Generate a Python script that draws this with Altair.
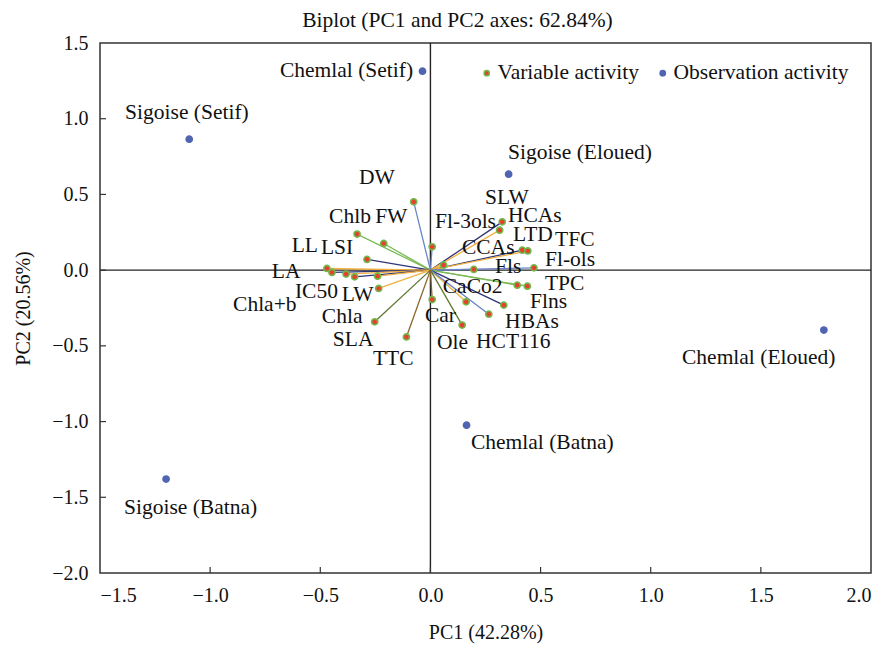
import altair as alt
import pandas as pd

# ---- data ----
var_names = ["DW", "Chlb", "FW", "LSI", "LA", "Chla+b", "IC50", "LL", "Chla", "LW", "SLA", "TTC",
             "Fl-3ols", "SLW", "HCAs", "LTD", "TFC", "CCAs", "Fls", "Fl-ols", "Flns", "TPC",
             "CaCo2", "HBAs", "HCT116", "Ole", "Car"]
var_x = [-0.076, -0.333, -0.212, -0.288, -0.470, -0.447, -0.383, -0.344, -0.240, -0.235, -0.253, -0.109,
         0.008, 0.326, 0.314, 0.417, 0.442, 0.060, 0.197, 0.470, 0.394, 0.440,
         0.162, 0.333, 0.265, 0.144, 0.008]
var_y = [0.451, 0.238, 0.176, 0.071, 0.011, -0.015, -0.026, -0.044, -0.040, -0.121, -0.341, -0.441,
         0.154, 0.319, 0.264, 0.132, 0.127, 0.033, 0.005, 0.015, -0.099, -0.106,
         -0.209, -0.231, -0.291, -0.363, -0.194]

obs_names = ["Chemlal (Setif)", "Sigoise (Setif)", "Sigoise (Eloued)", "Chemlal (Eloued)",
             "Chemlal (Batna)", "Sigoise (Batna)"]
obs_x = [-0.036, -1.095, 0.355, 1.786, 0.164, -1.200]
obs_y = [1.314, 0.865, 0.634, -0.396, -1.024, -1.380]

x_ticks = [-1.5, -1.0, -0.5, 0.0, 0.5, 1.0, 1.5, 2.0]
y_ticks = [-2.0, -1.5, -1.0, -0.5, 0.0, 0.5, 1.0, 1.5]

# ---- label anchors (left edge, vertical centre), in data units ----
var_label_pos = {
    "DW": (-0.324, 0.608), "Chlb": (-0.460, 0.351), "FW": (-0.251, 0.351), "LL": (-0.630, 0.159),
    "LSI": (-0.497, 0.146), "LA": (-0.720, -0.011), "Chla+b": (-0.896, -0.231), "IC50": (-0.615, -0.143),
    "LW": (-0.403, -0.164), "Chla": (-0.493, -0.308), "SLA": (-0.443, -0.462), "TTC": (-0.261, -0.587),
    "Fl-3ols": (0.021, 0.320), "SLW": (0.248, 0.476), "HCAs": (0.352, 0.357), "LTD": (0.375, 0.232),
    "TFC": (0.566, 0.199), "CCAs": (0.143, 0.146), "Fls": (0.293, 0.022), "Fl-ols": (0.520, 0.067),
    "TPC": (0.520, -0.092), "Flns": (0.452, -0.209), "CaCo2": (0.056, -0.112), "Car": (-0.025, -0.303),
    "HBAs": (0.339, -0.343), "Ole": (0.030, -0.480), "HCT116": (0.207, -0.473),
}
obs_label_pos = {
    "Chemlal (Setif)": (-0.683, 1.315), "Sigoise (Setif)": (-1.386, 1.037),
    "Sigoise (Eloued)": (0.352, 0.773), "Chemlal (Eloued)": (1.142, -0.581),
    "Chemlal (Batna)": (0.184, -1.142), "Sigoise (Batna)": (-1.391, -1.571),
}

# ---- styles ----
BLUE, GREEN, ORANGE, NAVY, OLIVE, BROWN = "#6a84c9", "#7cba56", "#f2b140", "#2f3576", "#5d7a30", "#8a6428"
var_colors = {
    "DW": BLUE, "Chlb": GREEN, "FW": GREEN, "LSI": NAVY, "LA": ORANGE, "Chla+b": NAVY, "IC50": ORANGE,
    "LL": NAVY, "Chla": ORANGE, "LW": ORANGE, "SLA": OLIVE, "TTC": BROWN, "Fl-3ols": BLUE, "SLW": NAVY,
    "HCAs": ORANGE, "LTD": NAVY, "TFC": ORANGE, "CCAs": ORANGE, "Fls": BLUE, "Fl-ols": BLUE,
    "Flns": GREEN, "TPC": GREEN, "CaCo2": ORANGE, "HBAs": NAVY, "HCT116": BLUE, "Ole": OLIVE, "Car": BROWN,
}
FONT = "Liberation Serif"
TXT = 21.5

vars_df = pd.DataFrame({"name": var_names, "x": var_x, "y": var_y})
vars_df["x0"] = 0.0
vars_df["y0"] = 0.0
vars_df["col"] = vars_df["name"].map(var_colors)
vars_df["kind"] = "Variable activity"
vars_df["lx"] = vars_df["name"].map(lambda n: var_label_pos[n][0])
vars_df["ly"] = vars_df["name"].map(lambda n: var_label_pos[n][1])

obs_df = pd.DataFrame({"name": obs_names, "x": obs_x, "y": obs_y})
obs_df["kind"] = "Observation activity"
obs_df["lx"] = obs_df["name"].map(lambda n: obs_label_pos[n][0])
obs_df["ly"] = obs_df["name"].map(lambda n: obs_label_pos[n][1])

pts_df = pd.concat([obs_df, vars_df[["name", "x", "y", "kind", "lx", "ly"]]], ignore_index=True)
lab_df = pts_df.copy()

W, H = 771, 530
xs = alt.Scale(domain=[-1.5, 2.0], nice=False, zero=False)
ys = alt.Scale(domain=[-2.0, 1.5], nice=False, zero=False)

x_axis = alt.Axis(values=x_ticks, format=".1f", title="PC1 (42.28%)", ticks=False, tickSize=0,
                  domain=False, grid=False, labelPadding=12, titlePadding=17,
                  labelFont=FONT, labelFontSize=20, labelColor="#111", titleFont=FONT, titleFontSize=20,
                  titleFontWeight="normal", titleColor="#111")
y_axis = alt.Axis(values=y_ticks, format=".1f", title="PC2 (20.56%)", ticks=False, tickSize=0,
                  domain=False, grid=False, labelPadding=12, titlePadding=18,
                  labelFont=FONT, labelFontSize=20, labelColor="#111", titleFont=FONT, titleFontSize=20,
                  titleFontWeight="normal", titleColor="#111")

base_x = alt.X("x:Q", scale=xs, axis=x_axis)
base_y = alt.Y("y:Q", scale=ys, axis=y_axis)

zero_v = alt.Chart(pd.DataFrame({"v": [0.0]})).mark_rule(color="#222", strokeWidth=1.4).encode(
    x=alt.X("v:Q", scale=xs, axis=x_axis))
zero_h = alt.Chart(pd.DataFrame({"v": [0.0]})).mark_rule(color="#222", strokeWidth=1.4).encode(
    y=alt.Y("v:Q", scale=ys, axis=y_axis))

xt = alt.Chart(pd.DataFrame({"t": x_ticks[1:-1]})).mark_rule(color="#333", strokeWidth=1.2).encode(
    x=alt.X("t:Q", scale=xs, axis=x_axis), y=alt.value(H), y2=alt.value(H - 6))
yt = alt.Chart(pd.DataFrame({"t": y_ticks[1:-1]})).mark_rule(color="#333", strokeWidth=1.2).encode(
    y=alt.Y("t:Q", scale=ys, axis=y_axis), x=alt.value(0), x2=alt.value(6))

vectors = alt.Chart(vars_df).mark_rule(strokeWidth=1.3).encode(
    x=alt.X("x0:Q", scale=xs, axis=x_axis), y=alt.Y("y0:Q", scale=ys, axis=y_axis),
    x2="x:Q", y2="y:Q", color=alt.Color("col:N", scale=None))

kind_dom = ["Variable activity", "Observation activity"]
legend = alt.Legend(title=None, orient="none", legendX=371, legendY=19, direction="horizontal",
                    labelFont=FONT, labelFontSize=TXT, labelColor="#111", labelLimit=400, symbolSize=28,
                    symbolStrokeWidth=1.5, columnPadding=8, labelOffset=0, symbolOffset=5,
                    symbolType="circle")
points = alt.Chart(pts_df).mark_circle(size=38, opacity=1, strokeWidth=1.6).encode(
    x=base_x, y=base_y,
    fill=alt.Fill("kind:N", scale=alt.Scale(domain=kind_dom, range=["#e8402e", "#5065b2"]), legend=legend,
                  sort=kind_dom),
    stroke=alt.Stroke("kind:N", scale=alt.Scale(domain=kind_dom, range=["#6fb84a", "#5065b2"]), legend=legend,
                      sort=kind_dom),
)

labels = alt.Chart(lab_df).mark_text(font=FONT, fontSize=TXT, align="left", baseline="middle",
                                     color="#111").encode(
    x=alt.X("lx:Q", scale=xs, axis=x_axis), y=alt.Y("ly:Q", scale=ys, axis=y_axis), text="name:N")

chart = alt.layer(zero_v, zero_h, vectors, xt, yt, points, labels).properties(
    width=W, height=H,
    background="white",
    title=alt.TitleParams("Biplot (PC1 and PC2 axes: 62.84%)", font=FONT, fontSize=21.5, fontWeight="normal",
                          color="#111", anchor="middle", dx=-28, offset=2),
    autosize=alt.AutoSizeParams(type="none"),
    padding={"left": 100, "top": 43, "right": 17, "bottom": 73},
).configure_view(stroke="#333", strokeWidth=1.5)

chart.save("out.html", embed_options={"renderer": "svg", "actions": False})
